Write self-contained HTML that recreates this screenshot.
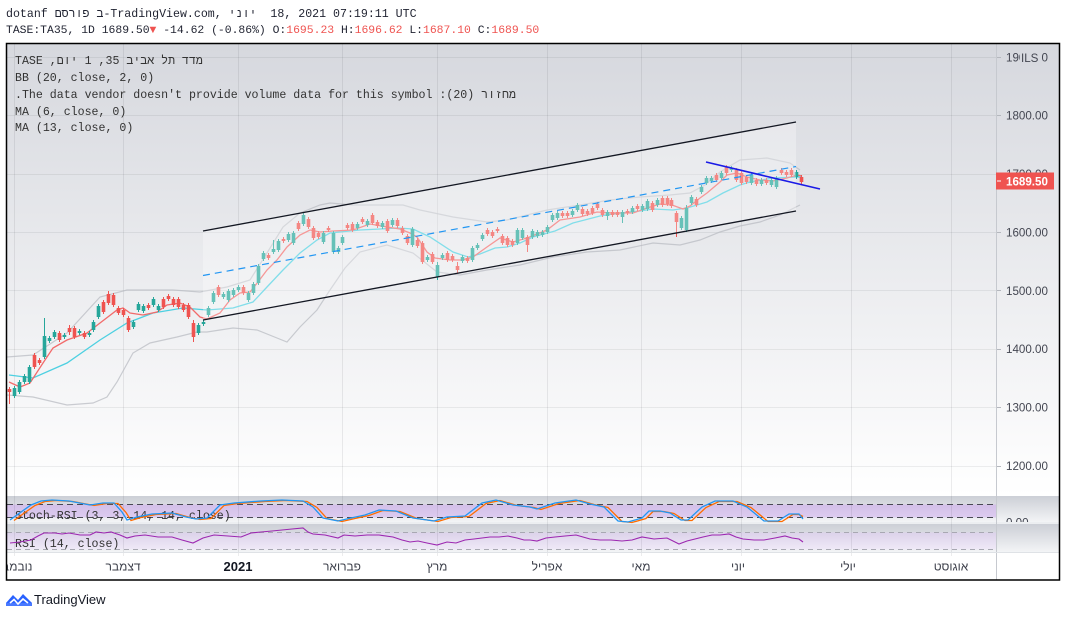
<!DOCTYPE html>
<html><head><meta charset="utf-8">
<style>
html,body{margin:0;padding:0;background:#fff;}
#wrap{position:relative;width:1067px;height:617px;overflow:hidden;background:#fff;font-family:"Liberation Sans","DejaVu Sans",sans-serif;}
.t{position:absolute;white-space:pre;font-family:"Liberation Mono","DejaVu Sans Mono",monospace;font-size:11.6px;color:#1f2230;line-height:14px;}
.lg{color:#333;}
.red{color:#ef5350}
.iso{unicode-bidi:isolate;}
svg{position:absolute;left:0;top:0;}
</style></head><body><div id="wrap">
<svg width="1067" height="617" viewBox="0 0 1067 617" xmlns="http://www.w3.org/2000/svg">
<defs>
<linearGradient id="gm" x1="0" y1="0" x2="0" y2="1"><stop offset="0" stop-color="#d6d8de"/><stop offset="1" stop-color="#ffffff"/></linearGradient>
<linearGradient id="gp" x1="0" y1="0" x2="0" y2="1"><stop offset="0" stop-color="#cccfd6"/><stop offset="1" stop-color="#f3f4f6"/></linearGradient>
<linearGradient id="gb1" x1="0" y1="0" x2="0" y2="1"><stop offset="0" stop-color="#d3bfe8"/><stop offset="1" stop-color="#dccbef"/></linearGradient>
<linearGradient id="gb2" x1="0" y1="0" x2="0" y2="1"><stop offset="0" stop-color="#dcd2ea"/><stop offset="1" stop-color="#efe9f7"/></linearGradient>
<clipPath id="cm"><rect x="7" y="44" width="990" height="452"/></clipPath>
<clipPath id="cx"><rect x="7" y="552" width="990" height="28"/></clipPath>
<clipPath id="c0"><rect x="997" y="496" width="63" height="26"/></clipPath>
<clipPath id="cp"><rect x="7" y="496" width="990" height="56"/></clipPath>
</defs>

<rect x="7" y="44" width="1053" height="452" fill="url(#gm)"/>
<rect x="7" y="496" width="1053" height="26" fill="url(#gp)"/>
<rect x="7" y="522" width="1053" height="2" fill="#eceef1"/>
<rect x="7" y="524" width="1053" height="28" fill="url(#gp)"/>
<rect x="7" y="552" width="1053" height="28" fill="#ffffff"/>

<rect x="7" y="504.5" width="990" height="13" fill="url(#gb1)"/>
<rect x="7" y="532.5" width="990" height="17" fill="url(#gb2)"/>

<g stroke="#2a2e39" stroke-opacity="0.08" stroke-width="1">
<line x1="7" y1="57.5" x2="997" y2="57.5"/>
<line x1="7" y1="115.5" x2="997" y2="115.5"/>
<line x1="7" y1="174.5" x2="997" y2="174.5"/>
<line x1="7" y1="232.5" x2="997" y2="232.5"/>
<line x1="7" y1="290.5" x2="997" y2="290.5"/>
<line x1="7" y1="349.5" x2="997" y2="349.5"/>
<line x1="7" y1="407.5" x2="997" y2="407.5"/>
<line x1="7" y1="466.5" x2="997" y2="466.5"/>
</g>
<g stroke="#2a2e39" stroke-opacity="0.09" stroke-width="1">
<line x1="14.5" y1="44" x2="14.5" y2="556"/>
<line x1="123.5" y1="44" x2="123.5" y2="556"/>
<line x1="238.5" y1="44" x2="238.5" y2="556"/>
<line x1="342.5" y1="44" x2="342.5" y2="556"/>
<line x1="437.5" y1="44" x2="437.5" y2="556"/>
<line x1="547.5" y1="44" x2="547.5" y2="556"/>
<line x1="641.5" y1="44" x2="641.5" y2="556"/>
<line x1="741.5" y1="44" x2="741.5" y2="556"/>
<line x1="851.5" y1="44" x2="851.5" y2="556"/>
<line x1="951.5" y1="44" x2="951.5" y2="556"/>
</g>

<g stroke-width="1" fill="none">
<line x1="7" y1="504.5" x2="997" y2="504.5" stroke="#4a4a55" stroke-dasharray="6,4"/>
<line x1="7" y1="517.5" x2="997" y2="517.5" stroke="#4a4a55" stroke-dasharray="6,4"/>
<line x1="7" y1="532.5" x2="997" y2="532.5" stroke="#a8a8b2" stroke-dasharray="5,4"/>
<line x1="7" y1="549.5" x2="997" y2="549.5" stroke="#a8a8b2" stroke-dasharray="5,4"/>
</g>

<text x="15" y="519" font-family="Liberation Mono, DejaVu Sans Mono, monospace" font-size="11.6" fill="#333">Stoch-RSI (3, 3, 14, 14, close)</text>
<text x="15" y="547" font-family="Liberation Mono, DejaVu Sans Mono, monospace" font-size="11.6" fill="#333">RSI (14, close)</text>

<g clip-path="url(#cm)">
<polyline fill="none" stroke="#b9bcc3" stroke-opacity="0.75" stroke-width="1.2" points="7,357 33,355 67,333 100,297 127,290 173,290 200,292 227,287 250,280 267,253 283,227 300,213 320,205 330,203 353,205 403,205 420,210 453,217 487,222 507,220 547,210 580,205 610,200 640,197 670,195 690,193 705,185 720,172 740,160 767,158 790,163 800,170"/>
<polyline fill="none" stroke="#b9bcc3" stroke-opacity="0.75" stroke-width="1.2" points="7,395 33,397 67,405 93,403 107,397 117,382 133,353 150,343 177,337 197,332 207,332 233,328 257,330 277,338 287,342 300,327 317,310 330,290 345,268 360,252 387,245 413,253 437,272 460,275 487,270 520,265 553,257 587,252 620,250 653,243 680,245 700,240 720,232 740,226 760,222 780,215 800,205"/>
<polyline fill="none" stroke="#4dd0e1" stroke-width="1.3" points="9,375 33,378 67,363 100,340 127,323 153,313 183,308 207,310 233,308 253,302 267,287 283,270 300,253 317,240 330,233 360,230 380,229 398,228 413,229 430,237 453,252 468,257 480,254 495,248 507,247 520,243 533,237 555,231 573,223 600,216 620,213 640,211 653,209 673,210 687,208 707,202 723,193 740,185 750,182 773,178 797,177 801,177"/>
<polyline fill="none" stroke="#f26b6b" stroke-width="1.3" points="9,382 20,387 30,383 43,363 53,348 67,340 87,333 100,323 117,310 123,308 130,313 143,315 157,312 167,305 180,303 190,307 200,317 207,319 220,313 230,300 240,293 250,292 258,282 267,270 277,260 287,247 300,235 310,230 320,232 333,231 353,230 370,224 387,227 400,229 410,233 417,237 427,252 435,258 450,260 462,260 473,257 487,247 500,238 513,242 527,238 547,230 560,220 580,217 597,212 613,213 633,213 647,208 660,204 672,205 683,209 690,206 700,198 707,193 720,182 727,175 737,173 747,177 760,180 773,181 787,178 797,175 802,176"/>
<g id="candles"></g>
<polygon points="203,231 796,122 796,211 203,320" fill="#ffffff" fill-opacity="0.3"/>
<line x1="203" y1="231" x2="796" y2="122" stroke="#131722" stroke-width="1.3"/>
<line x1="203" y1="320" x2="796" y2="211" stroke="#131722" stroke-width="1.3"/>
<line x1="203" y1="275.5" x2="796" y2="166.5" stroke="#2196f3" stroke-width="1.2" stroke-dasharray="7,5"/>
<line x1="706" y1="162" x2="820" y2="189" stroke="#1a1ae6" stroke-width="1.6"/>
</g>

<g clip-path="url(#cp)" fill="none">
<polyline stroke="#ff6d00" stroke-width="1.3" transform="translate(4,0.5)" points="10,520 21,512 31,505 41,501 52,500 69,501 90,505 103,503 114,503 122,512 127,520 137,517 152,514 172,513 186,517 196,519 207,518 220,505 234,503 261,501 282,500 303,501 313,507 323,518 338,521 351,518 365,515 379,510 396,511 413,518 434,521 447,517 465,516 482,503 496,500 513,505 530,507 537,509 555,503 576,500 590,504 604,507 618,521 628,522 642,518 649,511 660,511 670,513 681,520 688,520 702,507 715,501 733,501 747,507 764,521 778,521 789,514 795,514 799,516"/>
<polyline stroke="#2196f3" stroke-width="1.3" points="10,520 21,512 31,505 41,501 52,500 69,501 90,505 103,503 114,503 122,512 127,520 137,517 152,514 172,513 186,517 196,519 207,518 220,505 234,503 261,501 282,500 303,501 313,507 323,518 338,521 351,518 365,515 379,510 396,511 413,518 434,521 447,517 465,516 482,503 496,500 513,505 530,507 537,509 555,503 576,500 590,504 604,507 618,521 628,522 642,518 649,511 660,511 670,513 681,520 688,520 702,507 715,501 733,501 747,507 764,521 778,521 789,514 799,514 803,519"/>
<polyline stroke="#9c27b0" stroke-width="1.1" points="10,543 20,542 31,540 38,536 44,533 55,533 62,534 69,533 80,535 90,535 96,532 104,533 111,532 120,535 127,538 135,536 145,535 158,537 172,537 182,540 193,543 203,538 214,535 228,536 241,537 251,533 261,532 272,531 282,530 292,529 303,528 308,532 313,534 325,535 338,538 344,535 355,536 367,535 379,535 393,537 402,540 410,542 418,541 427,543 437,545 447,542 456,543 465,540 474,539 482,538 490,537 499,537 508,536 517,538 524,540 530,540 537,541 546,538 555,537 565,536 576,535 583,537 590,539 600,540 611,540 622,541 632,540 642,537 654,539 667,538 673,541 679,544 687,541 695,539 703,537 712,535 720,535 729,534 736,537 743,539 754,540 764,540 775,538 785,536 792,538 799,539 803,542"/>
</g>

<line x1="996.5" y1="44" x2="996.5" y2="580" stroke="#c6c9cf" stroke-width="1"/>
<line x1="7" y1="552.5" x2="1060" y2="552.5" stroke="#dfe2e6" stroke-width="1"/>

<g stroke="#b4b7bd" stroke-width="1">
<line x1="997" y1="57.5" x2="1001" y2="57.5"/>
<line x1="997" y1="115.5" x2="1001" y2="115.5"/>
<line x1="997" y1="174.5" x2="1001" y2="174.5"/>
<line x1="997" y1="232.5" x2="1001" y2="232.5"/>
<line x1="997" y1="290.5" x2="1001" y2="290.5"/>
<line x1="997" y1="349.5" x2="1001" y2="349.5"/>
<line x1="997" y1="407.5" x2="1001" y2="407.5"/>
<line x1="997" y1="466.5" x2="1001" y2="466.5"/>
</g>
<g font-family="Liberation Sans, DejaVu Sans, sans-serif" font-size="11.6" fill="#434651">
<text x="1006" y="61.5">1900.00</text>
<text x="1006" y="119.7">1800.00</text>
<text x="1006" y="178.1">1700.00</text>
<text x="1006" y="236.5">1600.00</text>
<text x="1006" y="294.8">1500.00</text>
<text x="1006" y="353.2">1400.00</text>
<text x="1006" y="411.6">1300.00</text>
<text x="1006" y="470">1200.00</text>
</g>
<rect x="1020" y="50" width="22" height="16" fill="#d7d9df"/>
<text x="1021" y="62" font-family="Liberation Sans, DejaVu Sans, sans-serif" font-size="11.6" fill="#434651">ILS</text>
<rect x="996" y="172.5" width="58" height="17" fill="#ef5350"/>
<line x1="997" y1="181" x2="1001" y2="181" stroke="#ffffff" stroke-width="1"/>
<text x="1006" y="185.3" font-family="Liberation Sans, DejaVu Sans, sans-serif" font-size="11.6" font-weight="bold" fill="#ffffff">1689.50</text>
<g clip-path="url(#c0)">
<text x="1006" y="526.5" font-family="Liberation Sans, DejaVu Sans, sans-serif" font-size="11.6" fill="#434651">0.00</text>
</g>

<g clip-path="url(#cx)" font-family="Liberation Sans, DejaVu Sans, sans-serif" font-size="12" fill="#3c3f4a" text-anchor="middle">
<text x="14" y="570.5" direction="rtl">נובמבר</text>
<text x="123" y="570.5">דצמבר</text>
<text x="238" y="571" font-weight="bold" font-size="13" fill="#131722">2021</text>
<text x="342" y="570.5">פברואר</text>
<text x="437" y="570.5">מרץ</text>
<text x="547" y="570.5">אפריל</text>
<text x="641" y="570.5">מאי</text>
<text x="738" y="570.5">יוני</text>
<text x="848" y="570.5">יולי</text>
<text x="951" y="570.5">אוגוסט</text>
</g>

<rect x="6.5" y="43.5" width="1053" height="536.5" fill="none" stroke="#000" stroke-width="1.5"/>

<g transform="translate(6,592)">
<path d="M0,11 L7,3 L12,8 L17,2 L26,11 Z" fill="#2962ff"/>
<path d="M0,11 L7,5 L12,10 L17,5 L26,11 L26,14 L0,14 Z" fill="#2962ff" opacity="0.85"/>
<path d="M4,11 L8,7.5 L12,12 L17,7 L22,11" fill="none" stroke="#ffffff" stroke-width="1.6"/>
</g>
<text x="34" y="604" font-family="Liberation Sans, DejaVu Sans, sans-serif" font-size="13" fill="#131722">TradingView</text>
</svg>

<div class="t" style="left:6px;top:8px">dotanf <span class="iso">פורסם</span> <span class="iso">ב</span>-TradingView.com, <span class="iso">יוני</span>  18, 2021 07:19:11 UTC</div>
<div class="t" style="left:6px;top:24px;font-size:11.4px">TASE:TA35, 1D 1689.50<span class="red">▼</span> -14.62 (-0.86%) O:<span class="red">1695.23</span> H:<span class="red">1696.62</span> L:<span class="red">1687.10</span> C:<span class="red">1689.50</span></div>

<div class="t lg" style="left:15px;top:55px" dir="rtl">מדד תל אביב 35, 1 יום, TASE</div>
<div class="t lg" style="left:15px;top:72px">BB (20, close, 2, 0)</div>
<div class="t lg" style="left:15px;top:89px" dir="rtl">מחזור (20): The data vendor doesn't provide volume data for this symbol.</div>
<div class="t lg" style="left:15px;top:106px">MA (6, close, 0)</div>
<div class="t lg" style="left:15px;top:122px">MA (13, close, 0)</div>
</div>
<script>
var C=[[9,389,392,'r',387,404],[14,388,396,'g'],[19,382,392,'g'],[24,376,382,'g'],[29,367,382,'g'],[34,355,367,'r'],[39,360,363,'r'],[44,336,357,'g',318,359],[49,338,341,'g'],[54,332,337,'g'],[59,333,340,'r'],[64,335,337,'g'],[69,328,332,'r',325,335],[74,328,337,'r'],[79,331,333,'g'],[84,333,337,'r'],[89,333,335,'g'],[93,322,330,'g'],[98,306,317,'g'],[103,302,312,'r'],[108,294,303,'r',291,305],[113,295,305,'r'],[118,308,313,'r'],[123,310,315,'r'],[128,318,330,'r'],[133,322,327,'g'],[138,304,310,'g'],[143,306,311,'g'],[148,305,308,'r'],[153,299,305,'g'],[158,306,310,'g'],[163,299,307,'r'],[168,296,299,'r'],[173,299,305,'r'],[178,299,307,'r'],[183,305,310,'r'],[188,305,317,'r'],[193,323,337,'r',320,342],[198,325,333,'g'],[203,322,324,'g'],[208,308,315,'g'],[213,293,302,'g'],[218,287,295,'r'],[223,294,297,'g'],[228,291,300,'g'],[233,290,295,'g'],[238,287,290,'g'],[243,287,293,'r'],[248,293,300,'g'],[253,284,293,'g'],[258,266,283,'g'],[263,253,259,'g'],[268,255,258,'r'],[273,249,252,'g',240,254],[278,241,250,'g'],[283,239,241,'r'],[288,234,240,'g'],[293,233,243,'g'],[298,223,229,'r'],[303,215,224,'g',212,226],[308,219,227,'r'],[313,228,238,'r'],[318,233,237,'r'],[323,233,242,'g'],[328,228,230,'r'],[333,233,252,'g'],[338,248,252,'g'],[342,237,243,'g'],[347,225,228,'r'],[352,224,230,'r'],[357,224,228,'g'],[362,219,222,'r'],[367,221,225,'g'],[372,215,223,'r'],[377,222,226,'r'],[382,223,227,'g'],[387,221,231,'r'],[392,220,225,'g'],[397,220,226,'r'],[402,228,233,'r'],[407,236,243,'r'],[412,229,245,'g'],[417,240,246,'r'],[422,243,262,'r'],[427,257,260,'g'],[432,254,262,'r'],[437,265,277,'g',262,280],[442,255,258,'g'],[447,253,260,'r'],[452,256,260,'r'],[457,266,270,'r',262,273],[462,257,261,'g'],[467,258,261,'r'],[472,248,260,'g'],[477,245,248,'g'],[482,235,239,'g'],[487,230,234,'r'],[492,232,236,'r'],[497,229,231,'r'],[502,236,243,'r'],[507,238,245,'r'],[512,241,245,'r'],[517,230,243,'g'],[522,230,238,'g'],[527,237,245,'r',235,252],[532,231,237,'g'],[537,232,236,'g'],[542,232,235,'g'],[547,227,232,'g'],[552,215,220,'g'],[557,213,218,'g'],[562,213,216,'r'],[567,213,216,'r'],[572,211,215,'g'],[577,205,210,'g'],[582,209,214,'r'],[587,211,214,'r'],[592,208,213,'r'],[597,204,208,'r'],[602,210,215,'r'],[607,212,216,'g',210,220],[612,212,215,'r'],[617,212,215,'r'],[622,212,217,'g',210,223],[627,211,213,'r'],[632,208,212,'g'],[637,206,209,'r'],[642,206,210,'g'],[647,201,209,'g'],[652,203,210,'r'],[657,200,205,'g'],[662,198,205,'r'],[667,198,204,'r'],[671,200,206,'r'],[676,213,222,'r',211,237],[681,218,228,'g'],[686,208,230,'g',205,232],[691,197,203,'g'],[696,199,205,'r'],[701,187,192,'g'],[706,178,183,'g'],[711,178,181,'g'],[716,175,180,'r'],[721,173,178,'g'],[726,167,173,'r'],[731,168,170,'g'],[736,170,180,'r'],[741,173,183,'r'],[746,177,182,'r'],[751,175,183,'g'],[756,180,184,'r'],[761,180,184,'g'],[766,180,183,'r'],[771,180,185,'g'],[776,178,187,'g'],[781,170,173,'r'],[786,172,175,'r'],[791,170,175,'r'],[796,172,177,'g'],[801,177,182,'r']];
var s='';
for(var i=0;i<C.length;i++){var c=C[i],x=c[0],t=c[1],b=c[2],col=c[3]=='g'?'#26a69a':'#ef5350';
var h=c.length>4?c[4]:t-2,l=c.length>5?c[5]:b+2;
s+='<line x1="'+(x+0.5)+'" y1="'+h+'" x2="'+(x+0.5)+'" y2="'+l+'" stroke="'+col+'" stroke-width="1"/>';
s+='<rect x="'+(x-1.3)+'" y="'+t+'" width="3.6" height="'+Math.max(1,b-t)+'" fill="'+col+'"/>';}
document.getElementById('candles').innerHTML=s;
</script>
</body></html>
